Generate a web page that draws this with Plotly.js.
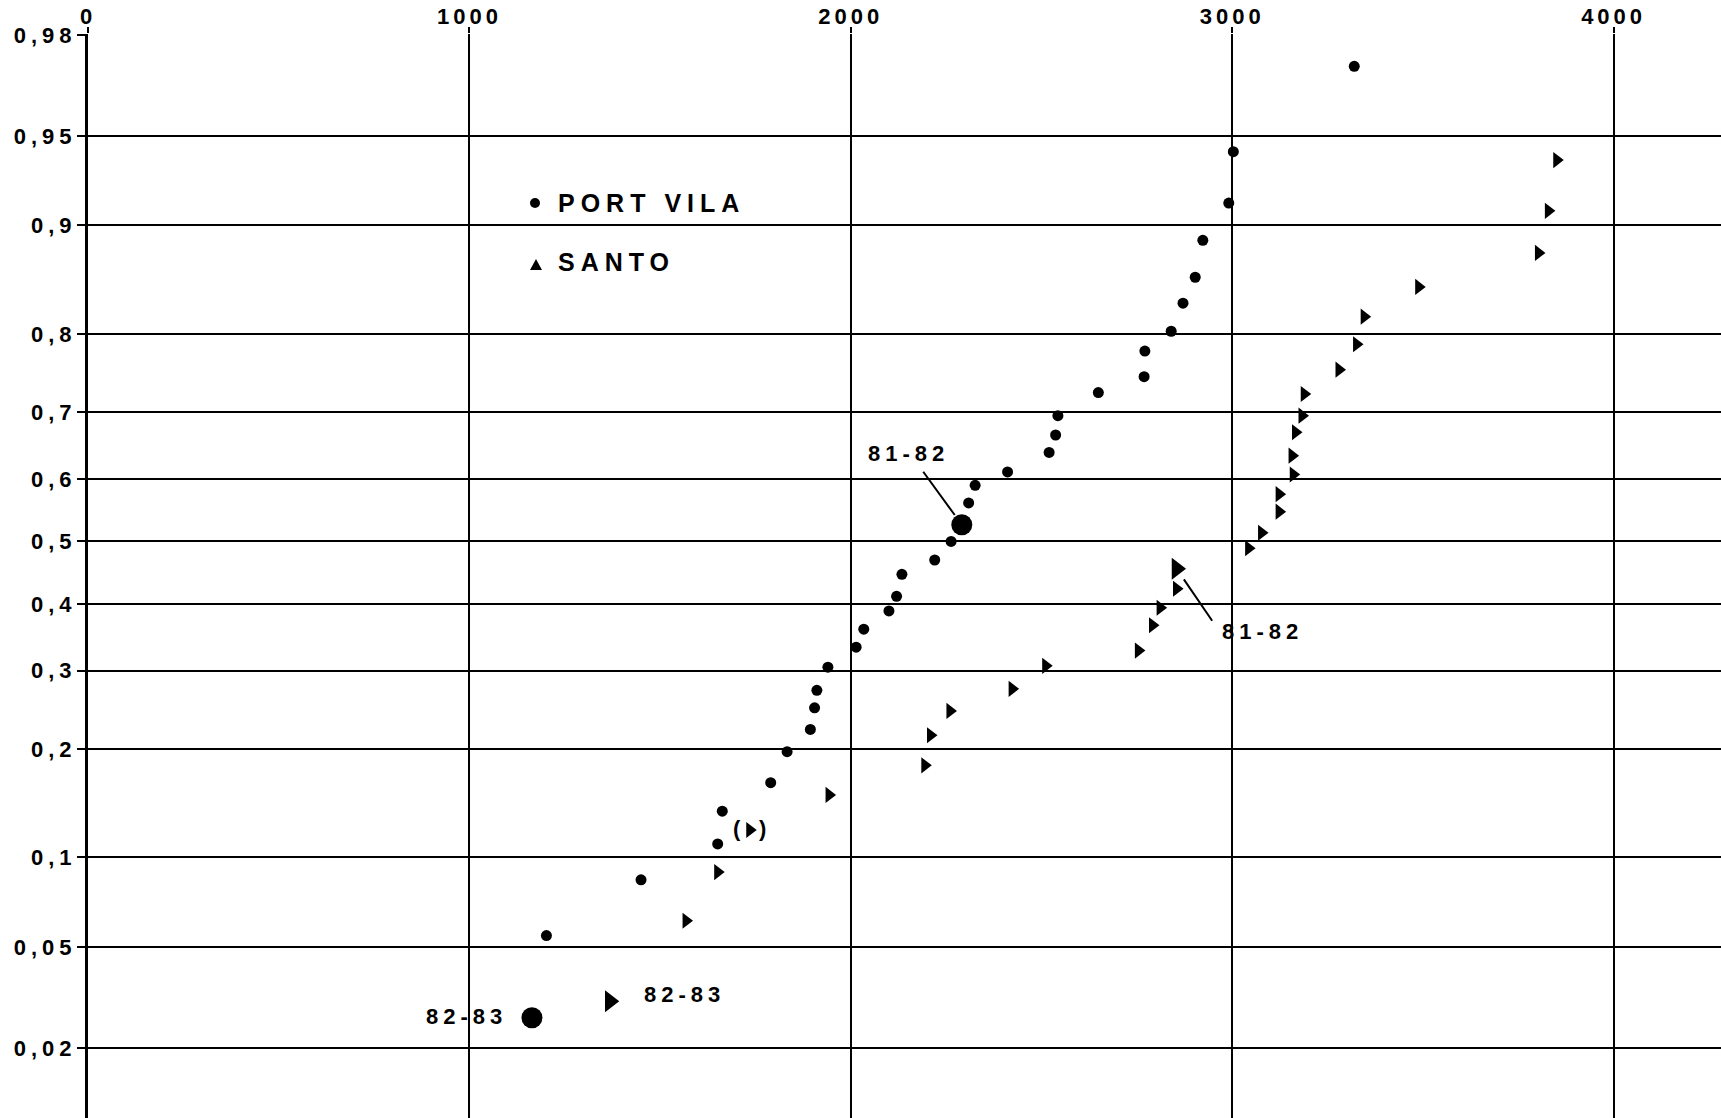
<!DOCTYPE html>
<html>
<head>
<meta charset="utf-8">
<script src="https://cdn.plot.ly/plotly-3.0.1.min.js"></script>
<style>html,body{margin:0;padding:0;background:#fff;}#chart{width:1721px;height:1118px;}</style>
</head>
<body>
<div id="chart"></div>
<script>
// ---------- data ----------
// Port Vila: annual values (x) and cumulative frequency (probability scale)
const portVilaX = [3320, 3003, 2991, 2923, 2903, 2871, 2840, 2771, 2769, 2649, 2543, 2537, 2520, 2411, 2326, 2309,
                   2263, 2220, 2134, 2120, 2100, 2034, 2014, 1940, 1911, 1905, 1894, 1833, 1790, 1663, 1651, 1450, 1202];
const portVilaP = [0.973, 0.943, 0.915, 0.889, 0.858, 0.833, 0.803, 0.780, 0.748, 0.727, 0.695, 0.667, 0.641, 0.611, 0.590, 0.562,
                   0.500, 0.470, 0.447, 0.412, 0.389, 0.361, 0.334, 0.305, 0.273, 0.250, 0.223, 0.197, 0.164, 0.137, 0.110, 0.085, 0.055];
// Santo
const santoX = [3851, 3829, 3803, 3489, 3346, 3326, 3280, 3189, 3183, 3166, 3157, 3160, 3123, 3123, 3077, 3043,
                2854, 2811, 2791, 2754, 2511, 2423, 2260, 2209, 2194, 1943, 1651, 1568];
const santoP = [0.939, 0.910, 0.879, 0.849, 0.819, 0.788, 0.757, 0.725, 0.695, 0.671, 0.636, 0.607, 0.576, 0.548, 0.514, 0.489,
                0.424, 0.394, 0.367, 0.329, 0.307, 0.275, 0.246, 0.216, 0.182, 0.152, 0.090, 0.062];
// Santo doubtful value (in parentheses)
const santoDoubtX = [1735];
const santoDoubtP = [0.121];
// Highlighted seasons
const highlightLabels = ["81-82", "82-83"];
const portVilaHighX = [2291, 1164];
const portVilaHighP = [0.527, 0.0267];
const santoHighX = [2854, 1368];
const santoHighP = [0.456, 0.0311];
// Axis ticks
const xTickVals = [0, 1000, 2000, 3000, 4000];
const xTickLabels = ["0", "1000", "2000", "3000", "4000"];
const yTickProbs = [0.02, 0.05, 0.1, 0.2, 0.3, 0.4, 0.5, 0.6, 0.7, 0.8, 0.9, 0.95, 0.98];
const yTickLabels = ["0,02", "0,05", "0,1", "0,2", "0,3", "0,4", "0,5", "0,6", "0,7", "0,8", "0,9", "0,95", "0,98"];
const seriesNames = ["PORT VILA", "SANTO"];

// ---------- probability (normal) scale ----------
function probit(p) {
  const a = [-3.969683028665376e+01, 2.209460984245205e+02, -2.759285104469687e+02, 1.383577518672690e+02, -3.066479806614716e+01, 2.506628277459239e+00];
  const b = [-5.447609879822406e+01, 1.615858368580409e+02, -1.556989798598866e+02, 6.680131188771972e+01, -1.328068155288572e+01];
  const c = [-7.784894002430293e-03, -3.223964580411365e-01, -2.400758277161838e+00, -2.549732539343734e+00, 4.374664141464968e+00, 2.938163982698783e+00];
  const d = [7.784695709041462e-03, 3.224671290700398e-01, 2.445134137142996e+00, 3.754408661907416e+00];
  const pl = 0.02425, ph = 1 - pl;
  let q, r;
  if (p < pl) { q = Math.sqrt(-2 * Math.log(p));
    return (((((c[0]*q+c[1])*q+c[2])*q+c[3])*q+c[4])*q+c[5]) / ((((d[0]*q+d[1])*q+d[2])*q+d[3])*q+1); }
  if (p > ph) { q = Math.sqrt(-2 * Math.log(1 - p));
    return -(((((c[0]*q+c[1])*q+c[2])*q+c[3])*q+c[4])*q+c[5]) / ((((d[0]*q+d[1])*q+d[2])*q+d[3])*q+1); }
  q = p - 0.5; r = q * q;
  return (((((a[0]*r+a[1])*r+a[2])*r+a[3])*r+a[4])*r+a[5])*q / (((((b[0]*r+b[1])*r+b[2])*r+b[3])*r+b[4])*r+1);
}
const Z = arr => arr.map(probit);

// ---------- layout geometry ----------
const W = 1721, H = 1118, L = 88, T = 34, R = 0, B = 0;
const plotW = W - L - R, plotH = H - T - B;
const PXPERUNIT_X = 0.3814, PXPERZ = 246.6;
const px = x => (x - L) / plotW;          // pixel -> paper
const py = y => 1 - (y - T) / plotH;

const FONT = "Liberation Sans, Arial, sans-serif";
const sp = (t, s) => '<span style="letter-spacing:' + s + 'px">' + t + '</span>';

const mk = {color: "black", line: {width: 0}};
const traces = [
  {x: portVilaX, y: Z(portVilaP), mode: "markers", type: "scatter", name: seriesNames[0],
   marker: Object.assign({symbol: "circle", size: 11}, mk), cliponaxis: false},
  {x: santoX, y: Z(santoP), mode: "markers", type: "scatter", name: seriesNames[1],
   marker: Object.assign({symbol: "triangle-right", size: 14}, mk), cliponaxis: false},
  {x: santoDoubtX, y: Z(santoDoubtP), mode: "markers", type: "scatter", name: seriesNames[1],
   marker: Object.assign({symbol: "triangle-right", size: 14}, mk), cliponaxis: false},
  {x: portVilaHighX, y: Z(portVilaHighP), mode: "markers", type: "scatter", name: seriesNames[0],
   marker: Object.assign({symbol: "circle", size: 21}, mk), cliponaxis: false},
  {x: santoHighX, y: Z(santoHighP), mode: "markers", type: "scatter", name: seriesNames[1],
   marker: Object.assign({symbol: "triangle-right", size: 19}, mk), cliponaxis: false}
];

const lblFont = {family: FONT, size: 22, color: "black", weight: "bold"};
const legFont = {family: FONT, size: 25, color: "black", weight: "bold"};
const leader = (x, y, ax, ay, so) => ({x: x, y: y, text: " ", showarrow: true, arrowhead: 0, arrowwidth: 2,
   arrowcolor: "black", ax: ax, ay: ay, standoff: so, font: {size: 1}});
const label = (x, y, t, dx, dy) => ({x: x, y: y, text: t, showarrow: false, xanchor: "center", yanchor: "middle",
   xshift: dx, yshift: dy, font: lblFont});

const annotations = [
  // legend text
  {xref: "paper", yref: "paper", x: px(556), y: py(203), xanchor: "left", yanchor: "middle",
   text: sp(seriesNames[0], 6), showarrow: false, font: legFont},
  {xref: "paper", yref: "paper", x: px(556), y: py(262), xanchor: "left", yanchor: "middle",
   text: sp(seriesNames[1], 6), showarrow: false, font: legFont},
  // 81-82 leader lines + labels
  leader(portVilaHighX[0], probit(portVilaHighP[0]), -40, -55, 12),
  label(portVilaHighX[0], probit(portVilaHighP[0]), sp(highlightLabels[0], 5), -53, 71),
  leader(santoHighX[0], probit(santoHighP[0]), 37, 54, 13),
  label(santoHighX[0], probit(santoHighP[0]), sp(highlightLabels[0], 5), 86, -63),
  // 82-83 labels
  label(portVilaHighX[1], probit(portVilaHighP[1]), sp(highlightLabels[1], 5), -65, 1),
  label(santoHighX[1], probit(santoHighP[1]), sp(highlightLabels[1], 5), 75, 7),
  // parentheses round the doubtful value
  label(santoDoubtX[0], probit(santoDoubtP[0]), "(", -13, 1),
  label(santoDoubtX[0], probit(santoDoubtP[0]), ")", 13, 1)
];

// legend symbols drawn as shapes (paper coordinates)
const shapes = [
  {type: "circle", xref: "paper", yref: "paper", x0: px(530), x1: px(540), y0: py(208), y1: py(198),
   fillcolor: "black", line: {width: 0}},
  {type: "path", xref: "paper", yref: "paper",
   path: "M " + px(530) + " " + py(270) + " L " + px(542) + " " + py(270) + " L " + px(536) + " " + py(259) + " Z",
   fillcolor: "black", line: {width: 0}}
];

const zTop = 2.0537 + 1 / PXPERZ;
const layout = {
  width: W, height: H,
  margin: {l: L, r: R, t: T, b: B, pad: 0},
  paper_bgcolor: "white", plot_bgcolor: "white",
  showlegend: false,
  font: {family: FONT, color: "black"},
  xaxis: {
    side: "top", range: [0, plotW / PXPERUNIT_X], tickvals: xTickVals, ticktext: xTickLabels.map(t => sp(t, 4)),
    showgrid: true, gridcolor: "black", gridwidth: 2, zeroline: false, showline: false,
    ticks: "outside", ticklen: 6, tickwidth: 2, tickcolor: "black", ticklabelstandoff: -6,
    tickfont: {family: FONT, size: 22, color: "black", weight: "bold"}, fixedrange: true
  },
  yaxis: {
    range: [zTop - plotH / PXPERZ, zTop], tickvals: Z(yTickProbs), ticktext: yTickLabels.map(t => sp(t, 5)),
    showgrid: true, gridcolor: "black", gridwidth: 2, zeroline: false,
    showline: true, linecolor: "black", linewidth: 3,
    ticks: "outside", ticklen: 8, tickwidth: 2, tickcolor: "black", ticklabelstandoff: -4,
    tickfont: {family: FONT, size: 22, color: "black", weight: "bold"}, fixedrange: true
  },
  shapes: shapes,
  annotations: annotations
};

Plotly.newPlot("chart", traces, layout, {staticPlot: true, displayModeBar: false});
</script>
</body>
</html>
